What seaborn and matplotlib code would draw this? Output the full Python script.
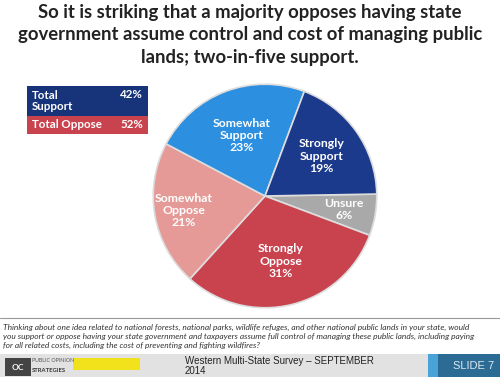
import matplotlib

matplotlib.use("Agg")
import matplotlib.pyplot as plt
import numpy as np
import seaborn as sns

# data
slices = ["Unsure", "Strongly\nOppose", "Somewhat\nOppose", "Somewhat\nSupport", "Strongly\nSupport"]
shares = [6, 31, 21, 23, 19]
slice_colors = ["#a9a9a9", "#c9434f", "#e69a97", "#2c8fdf", "#1b3a8c"]
label_radius = [0.72, 0.6, 0.74, 0.58, 0.62]

total_labels = ["Total\nSupport", "Total Oppose"]
total_values = [42, 52]
total_colors = ["#17337a", "#c9434f"]

title = ("So it is striking that a majority opposes having state\n"
         "government assume control and cost of managing public\n"
         "lands; two-in-five support.")
question = ("Thinking about one idea related to national forests, national parks, wildlife refuges, and other national public lands in your state, would\n"
            "you support or oppose having your state government and taxpayers assume full control of managing these public lands, including paying\n"
            "for all related costs, including the cost of preventing and fighting wildfires?")

sns.set_theme(style="white")
plt.rcParams["font.family"] = ["Lato", "DejaVu Sans"]

W, H = 500, 377
fig = plt.figure(figsize=(W / 100, H / 100), dpi=100)
fig.patch.set_facecolor("white")


def fx(px):
    return px / W


def fy(py):
    return 1 - py / H


# title
fig.text(0.5, fy(4), title, ha="center", va="top", fontsize=13.3, fontweight="bold",
         color="#222222", linespacing=1.38)

# pie
ax = fig.add_axes([fx(151), fy(310), fx(228), 228 / H])
wedges, _ = ax.pie(shares, colors=slice_colors, startangle=1, counterclock=False,
                   radius=1, wedgeprops=dict(edgecolor="#dddddd", linewidth=1.2))
for w, lab, v, r in zip(wedges, slices, shares, label_radius):
    ang = np.deg2rad((w.theta1 + w.theta2) / 2)
    ax.text(r * np.cos(ang), r * np.sin(ang), f"{lab}\n{v}%", ha="center", va="center",
            color="white", fontsize=8.8, fontweight="bold", linespacing=1.15)
ax.set_xlim(-1.02, 1.02)
ax.set_ylim(-1.02, 1.02)
ax.set_aspect("equal")
ax.axis("off")

# totals box
bx = fig.add_axes([fx(27), fy(134), fx(121), 48 / H])
bx.set_xlim(0, 121)
bx.set_ylim(48, 0)
bx.axis("off")
rows = [(0, 30), (30, 18)]
for (y0, h), lab, v, c in zip(rows, total_labels, total_values, total_colors):
    bx.add_patch(plt.Rectangle((0, y0), 121, h, facecolor=c, edgecolor="none"))
    bx.text(5, y0 + h / 2, lab, ha="left", va="center", color="white", fontsize=8.3,
            fontweight="bold", linespacing=1.1)
    bx.text(116, y0 + (8 if h > 20 else h / 2), f"{v}%", ha="right", va="center",
            color="white", fontsize=8.3, fontweight="bold")

# divider and question
fig.add_artist(plt.Line2D([fx(0), fx(500)], [fy(318), fy(318)], color="#999999", lw=0.8))
fig.text(fx(3), fy(324), question, ha="left", va="top", fontsize=6.0, style="italic",
         color="#333333", linespacing=1.32)

# footer bar
fig.add_artist(plt.Rectangle((0, 0), 1, fy(354), transform=fig.transFigure,
                             facecolor="#e2e2e2", edgecolor="none"))
fig.add_artist(plt.Rectangle((fx(5), fy(376)), fx(26), 18 / H, transform=fig.transFigure,
                             facecolor="#444444", edgecolor="none"))
fig.text(fx(18), fy(367), "OC", ha="center", va="center", fontsize=6, color="white", fontweight="bold")
fig.text(fx(32), fy(361), "PUBLIC OPINION", ha="left", va="center", fontsize=3.8, color="#555555")
fig.text(fx(32), fy(371), "STRATEGIES", ha="left", va="center", fontsize=4.2, color="#333333",
         fontweight="bold")
fig.add_artist(plt.Rectangle((fx(73), fy(370)), fx(67), 12 / H, transform=fig.transFigure,
                             facecolor="#f2e21c", edgecolor="none"))
fig.text(fx(185), fy(366), "Western Multi-State Survey \u2013 SEPTEMBER\n2014", ha="left",
         va="center", fontsize=7.0, color="#222222", family=["Liberation Sans"], linespacing=1.1)
fig.add_artist(plt.Rectangle((fx(428), 0), fx(11), fy(354), transform=fig.transFigure,
                             facecolor="#4aa3d8", edgecolor="none"))
fig.add_artist(plt.Rectangle((fx(438), 0), fx(62), fy(354), transform=fig.transFigure,
                             facecolor="#2c6b93", edgecolor="none"))
fig.text(fx(494), fy(366), "SLIDE 7", ha="right", va="center", fontsize=8, color="#dbe9f3",
         family=["Liberation Sans"])

fig.savefig("out.png", dpi=100)
